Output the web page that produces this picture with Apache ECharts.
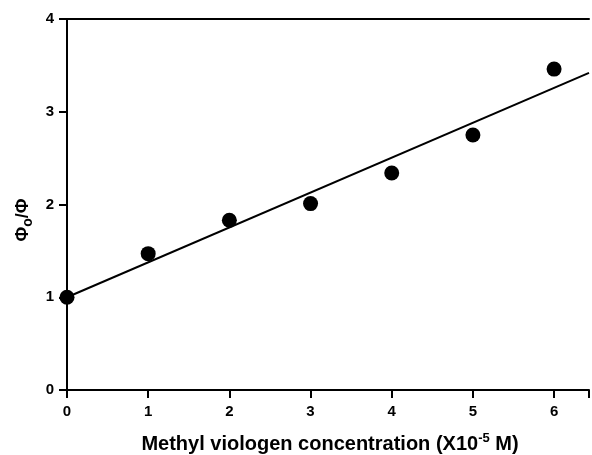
<!DOCTYPE html>
<html><head><meta charset="utf-8">
<script src="https://cdn.jsdelivr.net/npm/echarts@6/dist/echarts.min.js"></script>
<style>html,body{margin:0;padding:0;background:#fff}#c{width:592px;height:455px}</style>
</head><body><div id="c"></div>
<script>
const xValues = [0, 1, 2, 3, 4, 5, 6];
const yValues = [1.0, 1.47, 1.83, 2.01, 2.34, 2.75, 3.46];
const fitX = [0, 6.43];
const fitY = [1.0, 3.42];
const xTicks = [0, 1, 2, 3, 4, 5, 6];
const yTicks = [0, 1, 2, 3, 4];

const font = 'Liberation Sans, Arial, sans-serif';
const chart = echarts.init(document.getElementById('c'));
chart.setOption({
  animation: false,
  grid: {left: 67, right: 0, top: 19, bottom: 65},
  xAxis: [{
    type: 'value', min: 0, max: 6.43, interval: 1,
    axisLine: {show: true, onZero: false, lineStyle: {color: '#000', width: 2}},
    axisTick: {show: true, length: 8, lineStyle: {color: '#000', width: 2}},
    splitLine: {show: false},
    axisLabel: {color: '#000', fontFamily: font, fontWeight: 'bold', fontSize: 15, margin: 14,
      formatter: v => xTicks.includes(v) ? String(v) : ''}
  }, {
    type: 'value', position: 'top', min: 0, max: 6.43,
    axisLine: {show: true, onZero: false, lineStyle: {color: '#000', width: 2}},
    axisTick: {show: false}, axisLabel: {show: false}, splitLine: {show: false}
  }],
  yAxis: {
    type: 'value', min: 0, max: 4, interval: 1,
    axisLine: {show: true, onZero: false, lineStyle: {color: '#000', width: 2}},
    axisTick: {show: true, length: 8, lineStyle: {color: '#000', width: 2}},
    splitLine: {show: false},
    axisLabel: {color: '#000', fontFamily: font, fontWeight: 'bold', fontSize: 15, margin: 13,
      formatter: v => yTicks.includes(v) ? String(v) : ''}
  },
  graphic: [{
    type: 'text', x: 330, y: 444,
    style: {
      text: '{a|Methyl viologen concentration (X10}{sup|-5}{a| M)}',
      align: 'center', verticalAlign: 'middle',
      rich: {
        a: {fontFamily: font, fontWeight: 'bold', fontSize: 20, fill: '#000'},
        sup: {fontFamily: font, fontWeight: 'bold', fontSize: 13, fill: '#000', padding: [0, 0, 12, 0]}
      }
    }
  }, {
    type: 'text', x: 23, y: 220, rotation: Math.PI / 2,
    style: {
      text: '{a|Φ}{sub|o}{a|/Φ}',
      align: 'center', verticalAlign: 'middle',
      rich: {
        a: {fontFamily: font, fontWeight: 'bold', fontSize: 18, fill: '#000'},
        sub: {fontFamily: font, fontWeight: 'bold', fontSize: 14, fill: '#000', padding: [10, 0, 0, 0]}
      }
    }
  }],
  series: [{
    type: 'line', data: fitX.map((x, i) => [x, fitY[i]]),
    showSymbol: false, lineStyle: {color: '#000', width: 2}, z: 2
  }, {
    type: 'scatter', data: xValues.map((x, i) => [x, yValues[i]]),
    symbol: 'circle', symbolSize: 15, itemStyle: {color: '#000', opacity: 1}, z: 3
  }]
});
</script></body></html>
